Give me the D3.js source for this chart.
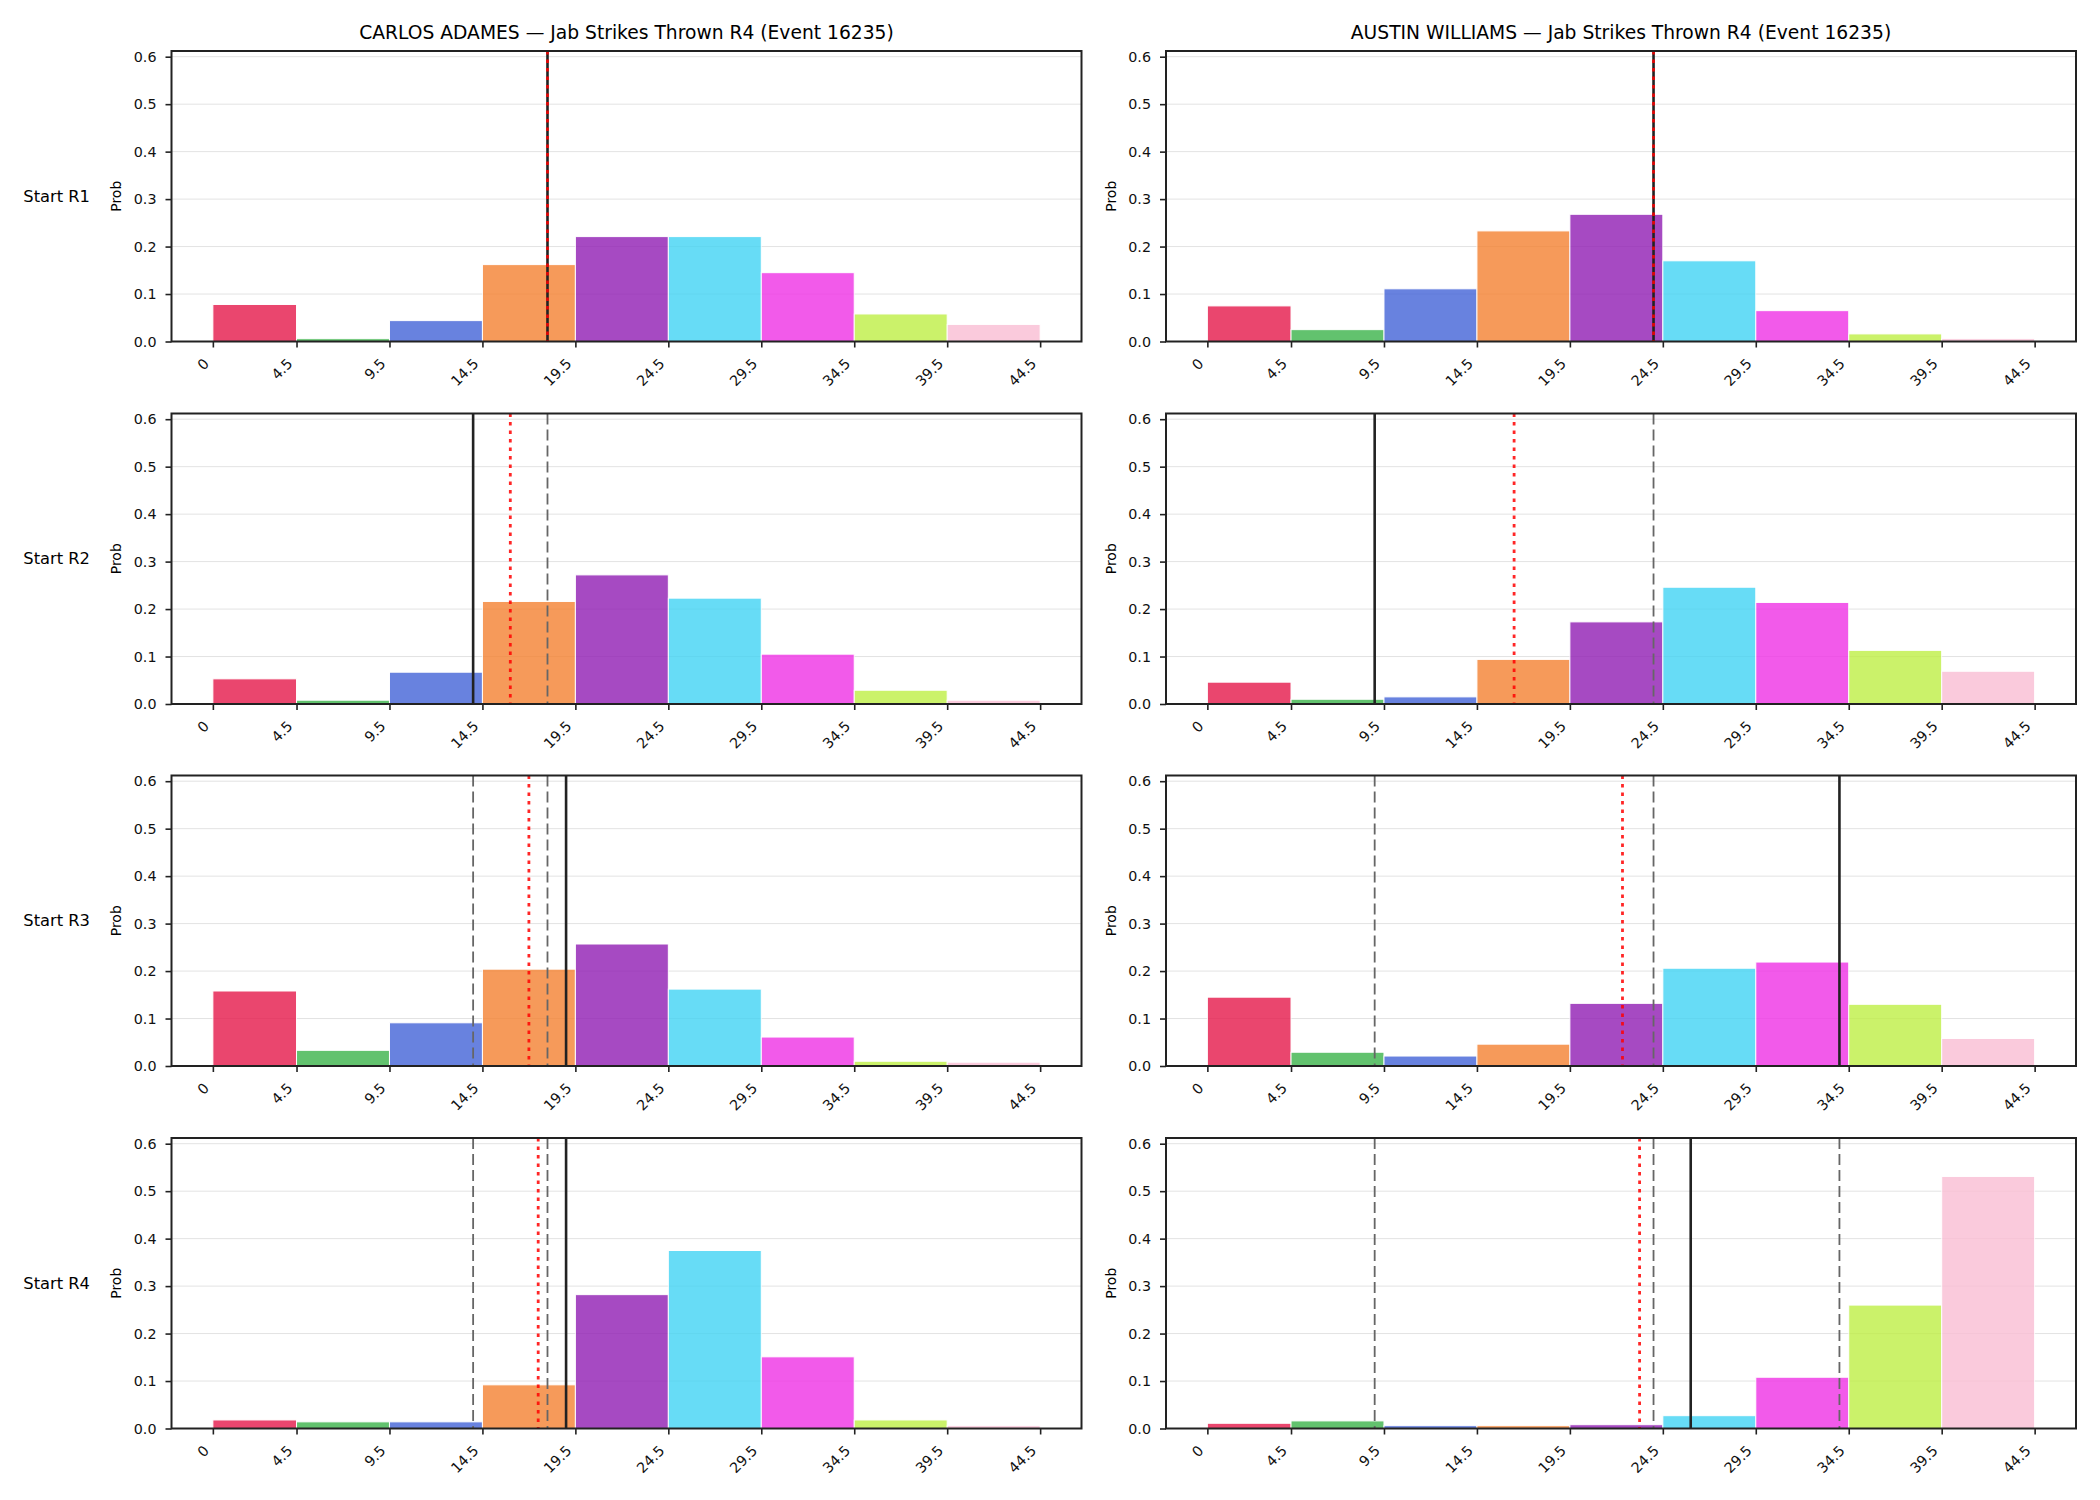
<!DOCTYPE html>
<html>
<head>
<meta charset="utf-8">
<script src="https://cdn.jsdelivr.net/npm/d3@7"></script>
<style>
  body { margin: 0; background: #fff; }
  svg { font-family: "DejaVu Sans", sans-serif; }
</style>
</head>
<body>
<div id="chart"></div>
<script>
// bin edges (also the x tick labels)
const binEdges = [0, 4.5, 9.5, 14.5, 19.5, 24.5, 29.5, 34.5, 39.5, 44.5];
const binColors = ["#e6194B", "#3cb44b", "#4363d8", "#f58231", "#911eb4",
                   "#42d4f4", "#f032e6", "#bfef45", "#fabed4"];
const yTicks = [0, 0.1, 0.2, 0.3, 0.4, 0.5, 0.6];

const fighters = ["CARLOS ADAMES", "AUSTIN WILLIAMS"];
const rowLabels = ["Start R1", "Start R2", "Start R3", "Start R4"];
const titleSuffix = " — Jab Strikes Thrown R4 (Event 16235)";

// probability per bin, one row per starting round
const adamesProbs = [
  [0.078, 0.006, 0.044, 0.162, 0.221, 0.221, 0.145, 0.058, 0.036],
  [0.053, 0.008, 0.067, 0.216, 0.272, 0.223, 0.105, 0.029, 0.008],
  [0.158, 0.033, 0.091, 0.204, 0.257, 0.162, 0.061, 0.010, 0.008],
  [0.018, 0.014, 0.014, 0.092, 0.282, 0.375, 0.151, 0.018, 0.006]
];
const williamsProbs = [
  [0.075, 0.025, 0.111, 0.233, 0.268, 0.170, 0.065, 0.016, 0.006],
  [0.046, 0.010, 0.015, 0.094, 0.173, 0.246, 0.214, 0.113, 0.069],
  [0.145, 0.029, 0.021, 0.046, 0.132, 0.206, 0.219, 0.130, 0.058],
  [0.011, 0.016, 0.006, 0.006, 0.008, 0.027, 0.108, 0.260, 0.531]
];
// actual thrown per round (solid line; earlier rounds dashed)
const adamesActual = [18, 14, 19, 19];
const williamsActual = [24, 9, 34, 26];
// running average (dotted red)
const adamesAvg = [18, 16, 17, 17.5];
const williamsAvg = [24, 16.5, 22.33, 23.25];

const probs = [adamesProbs, williamsProbs];
const actuals = [adamesActual, williamsActual];
const avgs = [adamesAvg, williamsAvg];

const WIDTH = 2100, HEIGHT = 1500;
const colLeft = [171.5, 1166];
const rowTop = [51, 413.5, 775.5, 1138];
const pw = 910, ph = 290.5;

const svg = d3.select("#chart").append("svg")
  .attr("width", WIDTH).attr("height", HEIGHT);

const x = d3.scaleLinear().domain([-2.225, 46.725]).range([0, pw]);
const y = d3.scaleLinear().domain([0, 0.612]).range([ph, 0]);

fighters.forEach((name, c) => {
  // column title
  svg.append("text")
    .attr("x", colLeft[c] + pw / 2)
    .attr("y", rowTop[0] - 12)
    .attr("text-anchor", "middle")
    .style("font-size", "18.7px")
    .text(name + titleSuffix);

  rowLabels.forEach((lab, r) => {
    const g = svg.append("g")
      .attr("transform", `translate(${colLeft[c]},${rowTop[r]})`);

    // horizontal grid
    g.selectAll("line.grid").data(yTicks).join("line")
      .attr("class", "grid")
      .attr("x1", 0).attr("x2", pw)
      .attr("y1", d => y(d)).attr("y2", d => y(d))
      .attr("stroke", "#e3e3e3").attr("stroke-width", 1);

    // bars
    const vals = probs[c][r];
    g.selectAll("rect.bar").data(vals).join("rect")
      .attr("class", "bar")
      .attr("x", (d, i) => x(binEdges[i]))
      .attr("width", (d, i) => x(binEdges[i + 1]) - x(binEdges[i]))
      .attr("y", d => y(d))
      .attr("height", d => y(0) - y(d))
      .attr("fill", (d, i) => binColors[i])
      .attr("stroke", "#fff").attr("stroke-width", 1)
      .attr("opacity", 0.8);

    // earlier rounds dashed
    const prev = actuals[c].slice(0, r);
    g.selectAll("line.prev").data(prev).join("line")
      .attr("class", "prev")
      .attr("x1", d => x(d)).attr("x2", d => x(d))
      .attr("y1", 0).attr("y2", ph)
      .attr("stroke", "#666").attr("stroke-width", 1.8)
      .attr("stroke-dasharray", "11,5");

    // actual this round
    g.append("line")
      .attr("x1", x(actuals[c][r])).attr("x2", x(actuals[c][r]))
      .attr("y1", 0).attr("y2", ph)
      .attr("stroke", "#222").attr("stroke-width", 2.6);

    // running mean
    g.append("line")
      .attr("x1", x(avgs[c][r])).attr("x2", x(avgs[c][r]))
      .attr("y1", 0).attr("y2", ph)
      .attr("stroke", "red").attr("stroke-opacity", 0.85)
      .attr("stroke-width", 2.8)
      .attr("stroke-dasharray", "3.5,5");

    // x axis
    const xa = g.append("g")
      .attr("transform", `translate(0,${ph})`)
      .call(d3.axisBottom(x).tickValues(binEdges).tickSize(6)
        .tickFormat(d => String(d)));
    xa.select(".domain").remove();
    xa.selectAll(".tick line").attr("stroke", "#222").attr("stroke-width", 1.6);
    xa.selectAll(".tick text")
      .attr("x", null).attr("y", null).attr("dy", null)
      .attr("text-anchor", "end")
      .attr("transform", "translate(-3.5,23) rotate(-45)")
      .attr("fill", "#111")
      .style("font-size", "14.3px").style("font-family", "DejaVu Sans");

    // y axis
    const ya = g.append("g")
      .call(d3.axisLeft(y).tickValues(yTicks).tickSize(6).tickPadding(9)
        .tickFormat(d3.format(".1f")));
    ya.select(".domain").remove();
    ya.selectAll(".tick line").attr("stroke", "#222").attr("stroke-width", 1.6);
    ya.selectAll(".tick text")
      .attr("fill", "#111")
      .style("font-size", "14.3px").style("font-family", "DejaVu Sans");

    // frame
    g.append("rect")
      .attr("width", pw).attr("height", ph)
      .attr("fill", "none").attr("stroke", "#222").attr("stroke-width", 2);

    // y label
    g.append("text")
      .attr("transform", `translate(-55,${ph / 2}) rotate(-90)`)
      .attr("text-anchor", "middle")
      .attr("dy", "0.35em")
      .style("font-size", "14px")
      .text("Prob");

    if (c === 0) {
      svg.append("text")
        .attr("x", 23.3)
        .attr("y", rowTop[r] + ph / 2)
        .attr("dy", "0.35em")
        .style("font-size", "16.3px")
        .text(lab);
    }
  });
});
</script>
</body>
</html>
